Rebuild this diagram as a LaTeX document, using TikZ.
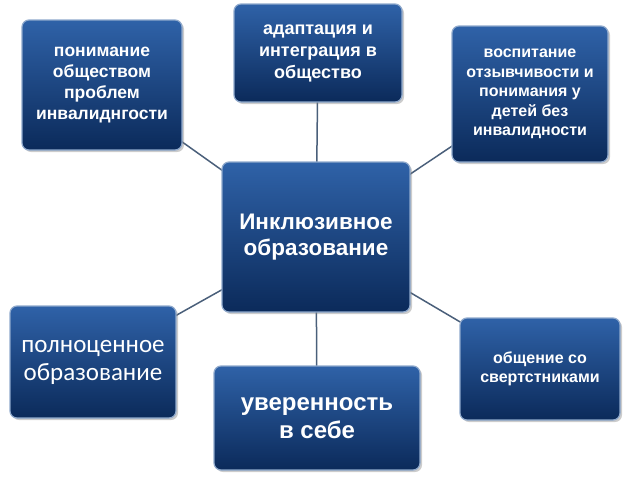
\documentclass[tikz,border=0pt]{standalone}
\usepackage{fontspec}
\setmainfont{Liberation Sans}
\newfontfamily\calib{Carlito}
\usetikzlibrary{shadows}
\definecolor{btop}{HTML}{2F62A8}
\definecolor{bbot}{HTML}{0B2A5A}
\definecolor{bline}{HTML}{8FA9CC}
\definecolor{conn}{HTML}{4A5F7A}
\tikzset{
  bx/.style={draw=bline, line width=1.2pt, rounded corners=7pt, top color=btop, bottom color=bbot,
    drop shadow={shadow xshift=2pt,shadow yshift=-2pt,opacity=0.4},
    text=white, align=center, font=\bfseries, inner sep=2pt},
  cn/.style={draw=conn, line width=1.5pt}
}
\begin{document}
\begin{tikzpicture}[x=1pt,y=1pt]
\useasboundingbox (0,0) rectangle (640,-480);
\coordinate (c) at (316,-237);
\draw[cn] (c) -- (102,-85);
\draw[cn] (c) -- (318,-53);
\draw[cn] (c) -- (530,-94);
\draw[cn] (c) -- (93,-362);
\draw[cn] (c) -- (317,-418);
\draw[cn] (c) -- (540,-369);
\node[bx, minimum width=188pt, minimum height=150pt, font=\bfseries\fontsize{22.5}{26}\selectfont] (ce) at (316,-237) {Инклюзивное\\образование};
\node[bx, minimum width=160pt, minimum height=130pt, font=\bfseries\fontsize{17.5}{21}\selectfont] (tl) at (102,-85) {понимание\\обществом\\проблем\\инвалиднгости};
\node[bx, minimum width=168pt, minimum height=98pt, font=\bfseries\fontsize{18}{22}\selectfont] (tc) at (318,-53) {адаптация и\\интеграция в\\общество};
\node[bx, minimum width=156pt, minimum height=136pt, font=\bfseries\fontsize{16}{19.5}\selectfont] (tr) at (530,-94) {воспитание\\отзывчивости и\\понимания у\\детей без\\инвалидности};
\node[bx, minimum width=166pt, minimum height=112pt, font=\calib\fontsize{25}{28}\selectfont] (bl) at (93,-362) {полноценное\\образование};
\node[bx, minimum width=206pt, minimum height=104pt, font=\bfseries\fontsize{24}{28}\selectfont] (bc) at (317,-418) {уверенность\\в себе};
\node[bx, minimum width=160pt, minimum height=102pt, font=\bfseries\fontsize{16}{19.5}\selectfont] (br) at (540,-369) {общение со\\свертстниками};
\end{tikzpicture}
\end{document}
